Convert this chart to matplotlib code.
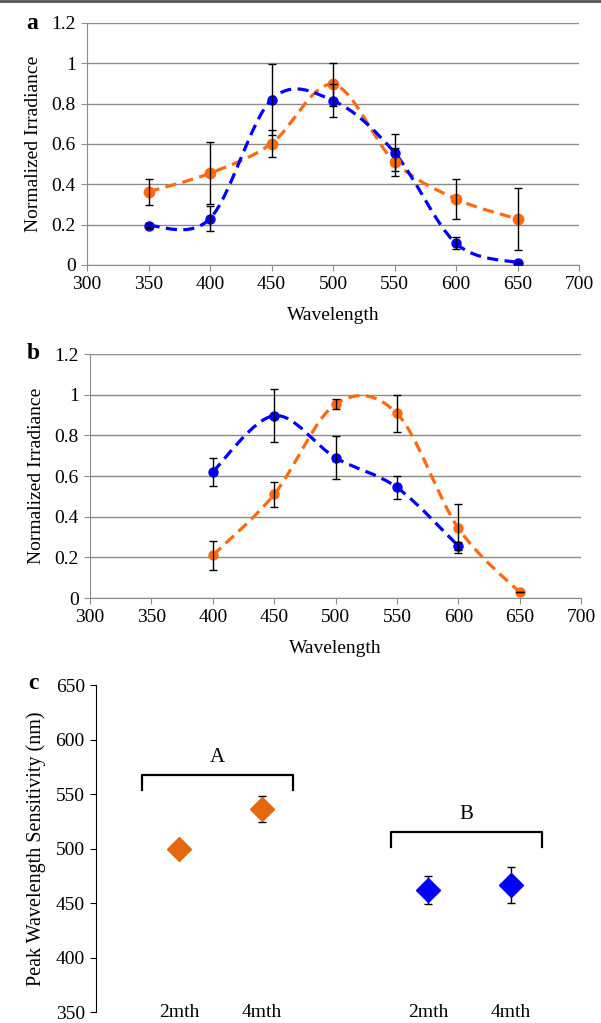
import numpy as np
import matplotlib
matplotlib.use('Agg')
import matplotlib.pyplot as plt
from matplotlib.path import Path
from matplotlib.patches import PathPatch
from matplotlib.lines import Line2D

plt.rcParams['font.family'] = ['Liberation Serif', 'DejaVu Serif']

# panel a
wavelength_a = [350, 400, 450, 500, 550, 600, 650]
blue_a = [0.195, 0.23, 0.82, 0.815, 0.557, 0.107, 0.011]
blue_a_err = [0.012, 0.06, 0.175, 0.08, 0.09, 0.03, 0.0]
orange_a = [0.363, 0.455, 0.602, 0.895, 0.512, 0.327, 0.228]
orange_a_err = [0.065, 0.155, 0.065, 0.105, 0.07, 0.097, 0.153]

# panel b
wavelength_b_blue = [400, 450, 500, 550, 600]
blue_b = [0.621, 0.897, 0.69, 0.544, 0.256]
blue_b_err = [0.068, 0.13, 0.105, 0.055, 0.02]
wavelength_b_orange = [400, 450, 500, 550, 600, 650]
orange_b = [0.21, 0.51, 0.954, 0.908, 0.344, 0.028]
orange_b_err = [0.07, 0.06, 0.025, 0.09, 0.12, 0.0]

# panel c
age_labels = ['2mth', '4mth', '2mth', '4mth']
peak_orange = [500, 536.5]
peak_orange_err = [0, 12]
peak_blue = [462, 466.5]
peak_blue_err = [12.5, 16.5]
group_labels = ['A', 'B']

ORANGE = '#FF6A10'
BLUE = '#0000FF'
GRID = '#8c8c8c'
FS = 14


def smooth_path(x, y):
    # excel-style smoothed line (catmull-rom bezier)
    pts = np.column_stack([x, y]).astype(float)
    n = len(pts)
    verts = [pts[0]]
    codes = [Path.MOVETO]
    for i in range(n - 1):
        p0 = pts[i - 1] if i > 0 else pts[i]
        p1 = pts[i]
        p2 = pts[i + 1]
        p3 = pts[i + 2] if i + 2 < n else pts[i + 1]
        verts += [p1 + (p2 - p0) / 6, p2 - (p3 - p1) / 6, p2]
        codes += [Path.CURVE4] * 3
    return Path(verts, codes)


def draw_series(ax, x, y, err, color, ms):
    patch = PathPatch(smooth_path(x, y), fill=False, edgecolor=color, lw=2.3,
                      linestyle=(0, (3.5, 2.0)), zorder=2)
    ax.add_patch(patch)
    ax.plot(x, y, 'o', color=color, ms=ms, ls='none', zorder=3)
    ax.errorbar(x, y, yerr=err, fmt='none', ecolor='black', elinewidth=1,
                capsize=3, capthick=1, zorder=4)


def style_wave_axis(ax):
    ax.set_xlim(300, 700)
    ax.set_ylim(0, 1.2)
    ax.set_xticks(range(300, 701, 50))
    yt = [0, 0.2, 0.4, 0.6, 0.8, 1.0, 1.2]
    ax.set_yticks(yt)
    ax.set_yticklabels(['0', '0.2', '0.4', '0.6', '0.8', '1', '1.2'])
    ax.yaxis.grid(True, color=GRID, lw=1)
    ax.set_axisbelow(True)
    for s in ['top', 'right']:
        ax.spines[s].set_visible(False)
    for s in ['left', 'bottom']:
        ax.spines[s].set_color(GRID)
    ax.tick_params(color=GRID, length=4, labelsize=FS, pad=4)
    ax.set_xlabel('Wavelength', fontsize=FS, labelpad=10)
    ax.set_ylabel('Normalized Irradiance', fontsize=FS, labelpad=7)


fig = plt.figure(figsize=(6.01, 10.23), dpi=100)

ax_a = fig.add_axes([0.1448, 0.7410, 0.8186, 0.2366])
style_wave_axis(ax_a)
draw_series(ax_a, wavelength_a, orange_a, orange_a_err, ORANGE, 7.5)
draw_series(ax_a, wavelength_a, blue_a, blue_a_err, BLUE, 6.5)

ax_b = fig.add_axes([0.1498, 0.4154, 0.8170, 0.2385])
style_wave_axis(ax_b)
draw_series(ax_b, wavelength_b_orange, orange_b, orange_b_err, ORANGE, 6.5)
draw_series(ax_b, wavelength_b_blue, blue_b, blue_b_err, BLUE, 6.5)

ax_c = fig.add_axes([0.1597, 0.01075, 0.8053, 0.3196])
pos_orange = [1, 2]
pos_blue = [4, 5]
ax_c.errorbar(pos_orange, peak_orange, yerr=peak_orange_err, fmt='D', color='#E3680E',
              ms=12, ecolor='black', elinewidth=1, capsize=3, capthick=1)
ax_c.errorbar(pos_blue, peak_blue, yerr=peak_blue_err, fmt='D', color=BLUE,
              ms=12, ecolor='black', elinewidth=1, capsize=3, capthick=1)
ax_c.set_xlim(0, 5.83)
ax_c.set_ylim(350, 650)
ax_c.set_yticks(range(350, 651, 50))
ax_c.set_xticks(pos_orange + pos_blue)
ax_c.set_xticklabels(age_labels)
ax_c.tick_params(axis='x', length=0, labelsize=FS, pad=-6)
ax_c.tick_params(axis='y', color='black', length=4, labelsize=FS, pad=4)
for s in ['top', 'right', 'bottom']:
    ax_c.spines[s].set_visible(False)
ax_c.set_ylabel('Peak Wavelength Sensitivity (nm)', fontsize=14.5, labelpad=7)

# significance brackets
for pos, vals, lab in [(pos_orange, peak_orange, group_labels[0]),
                       (pos_blue, peak_blue, group_labels[1])]:
    x0, x1 = pos[0] - 0.446, pos[1] + 0.373
    top = max(vals) + 31 if lab == 'A' else max(vals) + 48.5
    ax_c.plot([x0, x0, x1, x1], [top - 14, top, top, top - 14], color='black', lw=1.6,
              solid_joinstyle='round')
    ax_c.text((x0 + x1) / 2, top + 16, lab, ha='center', va='center', fontsize=15)

fig.text(0.053, 0.977, 'a', fontsize=17, weight='bold', ha='center', va='center')
fig.text(0.056, 0.654, 'b', fontsize=17, weight='bold', ha='center', va='center')
fig.text(0.056, 0.332, 'c', fontsize=17, weight='bold', ha='center', va='center')

fig.add_artist(Line2D([0, 1], [0.999, 0.999], color='#555555', lw=2))

fig.savefig('out.png', dpi=100)
